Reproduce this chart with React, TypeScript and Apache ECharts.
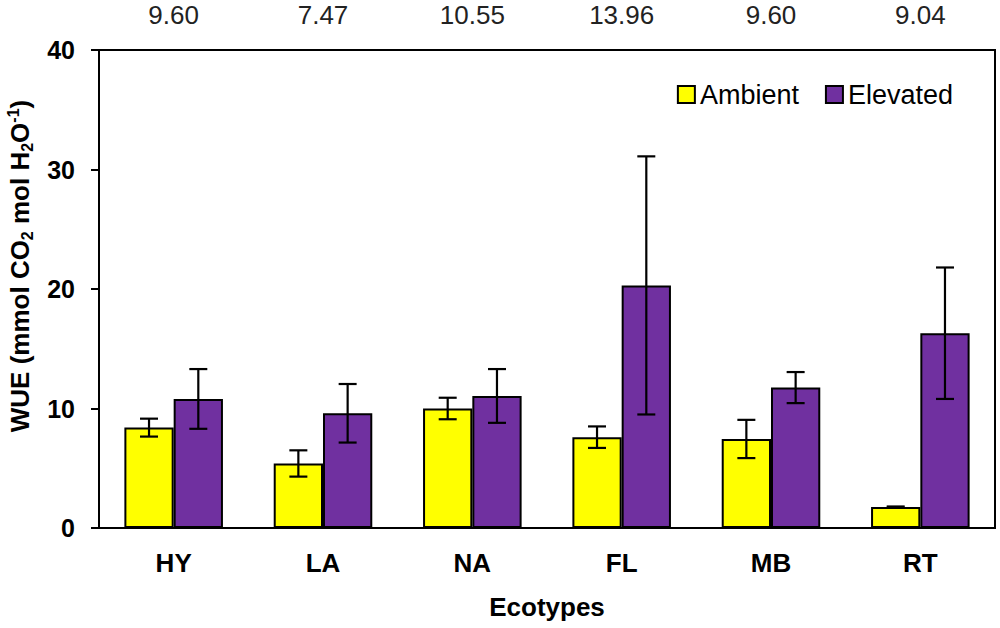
import React, { useEffect, useRef } from "react";
import * as echarts from "echarts";

const categories = ["HY", "LA", "NA", "FL", "MB", "RT"];
const topLabels = ["9.60", "7.47", "10.55", "13.96", "9.60", "9.04"];
const ambient = [8.4, 5.4, 10.0, 7.6, 7.45, 1.75];
const ambientErr = [0.75, 1.1, 0.9, 0.9, 1.6, 0.05];
const elevated = [10.8, 9.6, 11.05, 20.3, 11.75, 16.3];
const elevatedErr = [2.5, 2.45, 2.25, 10.8, 1.3, 5.5];
const yTicks = [0, 10, 20, 30, 40];

const FONT = "'Liberation Sans', Arial, sans-serif";
const BAR_FRAC = 0.33;

function errorSeries(name: string, vals: number[], errs: number[], sign: number) {
  return {
    type: "custom",
    name: name + "-err",
    silent: true,
    z: 5,
    encode: { x: 0, y: 1 },
    data: vals.map((v, i) => [i, v, errs[i]]),
    renderItem: (params: any, api: any) => {
      const idx = api.value(0);
      const val = api.value(1);
      const err = api.value(2);
      const band = api.size([1, 0])[0];
      const w = band * BAR_FRAC;
      const c = api.coord([idx, val]);
      const x = c[0] + (sign * w) / 2;
      const yTop = api.coord([idx, val + err])[1];
      const yBot = api.coord([idx, val - err])[1];
      const cap = 9;
      const st = { stroke: "#000", lineWidth: 2.2 };
      return {
        type: "group",
        children: [
          { type: "line", shape: { x1: x, y1: yTop, x2: x, y2: yBot }, style: st },
          { type: "line", shape: { x1: x - cap, y1: yTop, x2: x + cap, y2: yTop }, style: st },
          { type: "line", shape: { x1: x - cap, y1: yBot, x2: x + cap, y2: yBot }, style: st },
        ],
      };
    },
  };
}

export default function App() {
  const ref = useRef<HTMLDivElement>(null);
  useEffect(() => {
    if (!ref.current) return;
    const chart = echarts.init(ref.current, undefined, { renderer: "svg" });
    const option: any = {
      animation: false,
      backgroundColor: "#fff",
      textStyle: { fontFamily: FONT },
      grid: {
        left: 99,
        right: 5,
        top: 50,
        bottom: 100,
        show: true,
        borderColor: "#000",
        borderWidth: 2,
        backgroundColor: "transparent",
      },
      legend: {
        right: 42,
        top: 76,
        itemWidth: 17,
        itemHeight: 17,
        itemGap: 26,
        icon: "rect",
        textStyle: { fontSize: 27, color: "#000", fontFamily: FONT },
        data: ["Ambient", "Elevated"],
      },
      xAxis: [
        {
          type: "category",
          data: categories,
          position: "bottom",
          axisLine: { lineStyle: { color: "#000", width: 2 } },
          axisTick: { show: false },
          axisLabel: {
            fontSize: 26,
            fontWeight: "bold",
            color: "#000",
            margin: 22,
            fontFamily: FONT,
          },
          name: "Ecotypes",
          nameLocation: "middle",
          nameGap: 66,
          nameTextStyle: {
            fontSize: 26,
            fontWeight: "bold",
            color: "#000",
            fontFamily: FONT,
          },
        },
        {
          type: "category",
          data: topLabels,
          position: "top",
          axisLine: { show: false },
          axisTick: { show: false },
          axisLabel: {
            fontSize: 26,
            color: "#222",
            margin: 22,
            fontFamily: FONT,
          },
        },
      ],
      yAxis: {
        type: "value",
        min: yTicks[0],
        max: yTicks[yTicks.length - 1],
        interval: 10,
        splitLine: { show: false },
        axisLine: { show: true, lineStyle: { color: "#000", width: 2 } },
        axisTick: { show: true, length: 8, lineStyle: { color: "#000", width: 2 } },
        axisLabel: {
          fontSize: 25,
          fontWeight: "bold",
          color: "#000",
          margin: 24,
          fontFamily: FONT,
        },
      },
      graphic: [
        {
          type: "text",
          x: 20,
          y: 266,
          rotation: Math.PI / 2,
          style: {
            text: "{b|WUE (mmol CO}{s|2}{b| mol H}{s|2}{b|O}{p|-1}{b|)}",
            align: "center",
            verticalAlign: "middle",
            rich: {
              b: { fontSize: 26, fontWeight: "bold", fontFamily: FONT, fill: "#000", lineHeight: 30 },
              s: { fontSize: 16, fontWeight: "bold", fontFamily: FONT, fill: "#000", lineHeight: 16, verticalAlign: "bottom" },
              p: { fontSize: 16, fontWeight: "bold", fontFamily: FONT, fill: "#000", lineHeight: 16, verticalAlign: "top" },
            },
          },
        },
      ],
      series: [
        {
          type: "bar",
          name: "Ambient",
          data: ambient,
          barWidth: BAR_FRAC * 100 + "%",
          barGap: "0%",
          itemStyle: { color: "#FFFF00", borderColor: "#000", borderWidth: 2 },
        },
        {
          type: "bar",
          name: "Elevated",
          data: elevated,
          barWidth: BAR_FRAC * 100 + "%",
          barGap: "0%",
          itemStyle: { color: "#7030A0", borderColor: "#000", borderWidth: 2 },
        },
        errorSeries("Ambient", ambient, ambientErr, -1),
        errorSeries("Elevated", elevated, elevatedErr, 1),
      ],
    };
    chart.setOption(option);
    return () => chart.dispose();
  }, []);
  return (
    <div
      ref={ref}
      style={{ position: "absolute", left: 0, top: 0, width: 1000, height: 628 }}
    />
  );
}
